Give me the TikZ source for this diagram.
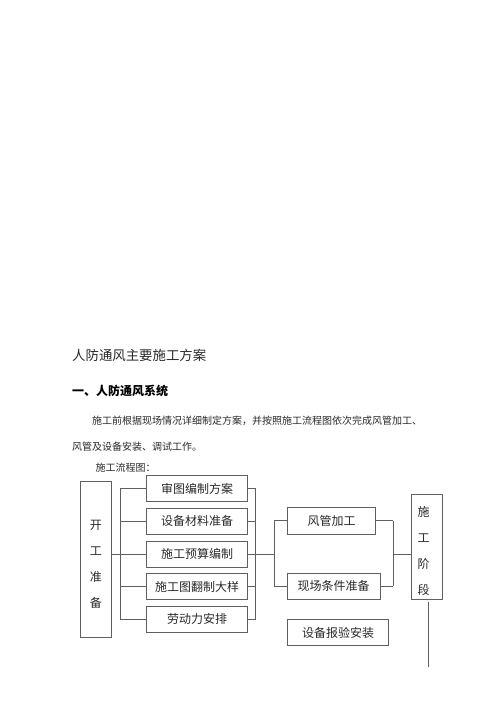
\documentclass[tikz,border=0pt]{standalone}
\usepackage{fontspec}
\newfontfamily\cjk{Noto Sans CJK SC}
\definecolor{linegray}{RGB}{95,95,95}
\definecolor{textgray}{RGB}{40,40,40}
\tikzset{
  fbox/.style={draw=linegray, line width=0.9pt, inner sep=0pt, minimum height=26pt,
               font=\cjk\fontsize{12}{14}\selectfont, text=textgray},
  conn/.style={draw=linegray, line width=0.9pt},
  vtext/.style={inner sep=0pt, align=center, font=\cjk\fontsize{12}{26}\selectfont, text=textgray},
  ptext/.style={inner sep=0pt, anchor=west, text=textgray}
}
\begin{document}
\begin{tikzpicture}[x=1pt,y=-1pt]
\useasboundingbox (0,0) rectangle (500,707);
% texts
\node[ptext, font=\cjk\fontsize{13.4}{15}\selectfont] (title) at (72,355) {人防通风主要施工方案};
\node[ptext, font=\cjk\bfseries\fontsize{12}{14}\selectfont, text=black] (head) at (72,390.7) {一、人防通风系统};
\node[ptext, font=\cjk\fontsize{10}{12}\selectfont] (par1) at (92,420.7) {施工前根据现场情况详细制定方案，并按照施工流程图依次完成风管加工、};
\node[ptext, font=\cjk\fontsize{10}{12}\selectfont] (par2) at (72,446.7) {风管及设备安装、调试工作。};
\node[ptext, font=\cjk\fontsize{10}{12}\selectfont] (flow) at (95.5,467.7) {施工流程图：};
% left tall box
\node[fbox, minimum width=31.7pt, minimum height=156.7pt] (kg) at (95.85,559.35) {};
\node[vtext] (kgt) at (95.85,564) {开\\工\\准\\备};
% five boxes
\node[fbox, minimum width=100.6pt] (b1) at (197,488.7) {审图编制方案};
\node[fbox, minimum width=100.6pt] (b2) at (197,521.3) {设备材料准备};
\node[fbox, minimum width=100.6pt] (b3) at (197,554) {施工预算编制};
\node[fbox, minimum width=100.6pt] (b4) at (197,586.6) {施工图翻制大样};
\node[fbox, minimum width=100.6pt] (b5) at (197,619.3) {劳动力安排};
% middle boxes
\node[fbox, minimum width=88.4pt, minimum height=26.3pt] (f1) at (331.5,520.85) {风管加工};
\node[fbox, minimum width=92.7pt] (f2) at (333.65,586.3) {现场条件准备};
\node[fbox, minimum width=101.4pt, minimum height=26.4pt] (sb) at (338,632.5) {设备报验安装};
% right tall box
\node[fbox, minimum width=31pt, minimum height=105pt] (sg) at (426.5,546.8) {};
\node[vtext] (sgt) at (423.5,550.8) {施\\工\\阶\\段};
% bus coordinates
\coordinate (busL) at (120,554);
\coordinate (busR) at (255.7,554);
\coordinate (busM) at (274.3,554);
\coordinate (busN) at (393.3,554);
\coordinate (tailtop) at (428.3,602);
\coordinate (tailend) at (428.3,666.7);
% connectors left
\draw[conn] (kg.east |- busL) -- (busL);
\draw[conn] (b1.west -| busL) -- (b5.west -| busL);
\foreach \b in {b1,b2,b3,b4,b5} {
  \draw[conn] (\b.west -| busL) -- (\b.west);
  \draw[conn] (\b.east) -- (\b.east -| busR);
}
\draw[conn] (b1.east -| busR) -- (b5.east -| busR);
\draw[conn] (busR) -- (busM);
\draw[conn] (f1.west -| busM) -- (f2.west -| busM);
\draw[conn] (f1.west -| busM) -- (f1.west);
\draw[conn] (f2.west -| busM) -- (f2.west);
\draw[conn] (f1.east) -- (f1.east -| busN);
\draw[conn] (f2.east) -- (f2.east -| busN);
\draw[conn] (f1.east -| busN) -- (f2.east -| busN);
\draw[conn] (busN) -- (sg.west |- busN);
\draw[conn] (tailtop) -- (tailend);
\end{tikzpicture}
\end{document}
